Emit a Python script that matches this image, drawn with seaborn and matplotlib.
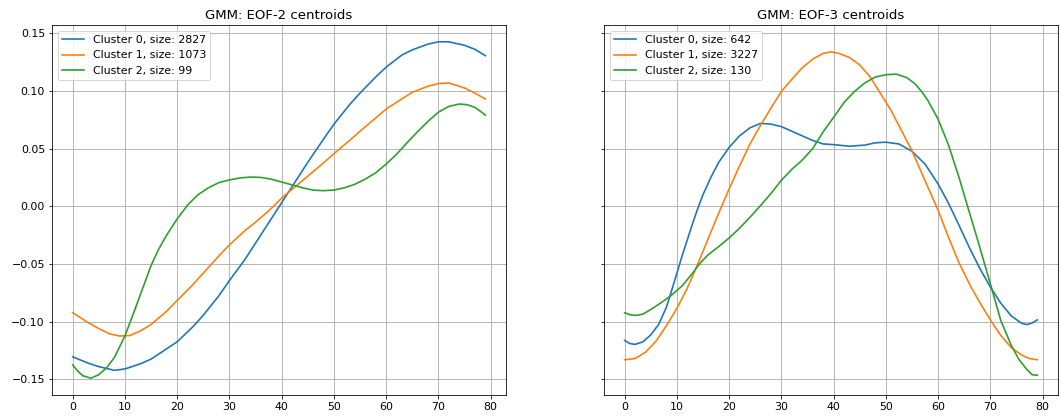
import matplotlib
matplotlib.use("Agg")
import matplotlib.pyplot as plt
import seaborn as sns

# ── values (x = time index, y = centroid value) ──
EOF2_X0 = [0, 3, 5, 8, 10, 13, 15, 18, 20, 23, 25, 28, 30, 33, 35, 38, 40, 42, 45, 48,
           50, 53, 55, 58, 60, 63, 65, 68, 70, 72, 75, 77, 79]
EOF2_Y0 = [-0.1305, -0.136, -0.139, -0.1422, -0.141, -0.1365, -0.1325, -0.1235, -0.1175,
           -0.1045, -0.0945, -0.0775, -0.0645, -0.046, -0.032, -0.011, 0.003, 0.017, 0.038,
           0.058, 0.071, 0.088, 0.098, 0.112, 0.1205, 0.131, 0.1355, 0.1405, 0.1425, 0.1425,
           0.1395, 0.136, 0.1305]
EOF2_X1 = [0, 3, 5, 7, 9, 11, 13, 15, 18, 20, 23, 25, 28, 30, 33, 35, 38, 40, 43, 45,
           48, 50, 53, 55, 58, 60, 63, 65, 68, 70, 72, 75, 77, 79]
EOF2_Y1 = [-0.0922, -0.101, -0.106, -0.1105, -0.1125, -0.112, -0.108, -0.1025, -0.091,
           -0.0817, -0.068, -0.058, -0.043, -0.0335, -0.021, -0.0139, -0.002, 0.007, 0.0185,
           0.026, 0.0375, 0.0455, 0.057, 0.065, 0.0765, 0.0842, 0.093, 0.0987, 0.104, 0.1063,
           0.1068, 0.1025, 0.098, 0.093]
EOF2_X2 = [0, 1, 2, 3.5, 5, 6.5, 8, 10, 12, 13.5, 15, 16.5, 18, 20, 22, 24, 26, 28, 30,
           32, 34, 36, 38, 40, 42, 44, 46, 48, 50, 52, 54, 56, 58, 60, 62, 64, 66, 68, 70,
           72, 74, 75.5, 77, 78, 79]
EOF2_Y2 = [-0.1375, -0.143, -0.147, -0.149, -0.146, -0.140, -0.131, -0.1125, -0.0885,
           -0.070, -0.0515, -0.037, -0.025, -0.011, 0.001, 0.010, 0.016, 0.0205, 0.0228,
           0.0245, 0.0253, 0.025, 0.0235, 0.021, 0.0185, 0.016, 0.014, 0.0135, 0.014, 0.016,
           0.019, 0.0235, 0.029, 0.0365, 0.045, 0.055, 0.0645, 0.0735, 0.0815, 0.0865,
           0.0886, 0.088, 0.0857, 0.0825, 0.079]

EOF3_X0 = [0, 1, 2, 3.5, 5, 6.5, 8, 9, 10, 11, 12, 13, 14, 15, 16.5, 18, 20, 22, 24, 26,
           28, 30, 33, 36, 38, 40, 43, 46, 48, 50, 52.5, 55, 57.5, 60, 62, 64, 66, 68, 70,
           72, 74, 76, 77, 78, 79]
EOF3_Y0 = [-0.1163, -0.119, -0.1197, -0.1175, -0.1115, -0.1025, -0.0875, -0.073, -0.058,
           -0.043, -0.029, -0.015, -0.002, 0.010, 0.025, 0.038, 0.051, 0.061, 0.068, 0.0718,
           0.0712, 0.069, 0.063, 0.057, 0.054, 0.0534, 0.052, 0.053, 0.055, 0.0555, 0.054,
           0.0476, 0.0366, 0.0193, 0.0025, -0.0165, -0.036, -0.054, -0.070, -0.084, -0.095,
           -0.1015, -0.1025, -0.1012, -0.0985]
EOF3_X1 = [0, 2, 4, 6, 8, 10, 12, 14, 16, 18, 20, 22, 24, 26, 28, 30, 32, 34, 36, 38,
           39.5, 41, 43, 45, 47, 49, 51, 53, 55, 57.5, 60, 62, 64, 66.3, 68, 70, 72, 74, 76,
           77.5, 79]
EOF3_Y1 = [-0.133, -0.132, -0.1265, -0.117, -0.1035, -0.0885, -0.071, -0.050, -0.028,
           -0.006, 0.015, 0.035, 0.054, 0.070, 0.085, 0.0995, 0.110, 0.120, 0.1275, 0.1325,
           0.1338, 0.1325, 0.129, 0.1225, 0.112, 0.0975, 0.083, 0.0655, 0.048, 0.0222,
           -0.0035, -0.027, -0.049, -0.070, -0.0835, -0.0985, -0.112, -0.1225, -0.129,
           -0.132, -0.133]
EOF3_X2 = [0, 1, 2.2, 3.5, 5, 7, 9, 11, 13, 14.5, 16, 18, 20, 22, 24, 26, 28, 30, 32, 34,
           36, 38, 40, 42, 44, 46, 48, 50, 52, 54, 55.6, 57, 58, 60, 62, 64, 65.7, 67.6, 70,
           72, 74, 75.5, 77, 78, 79]
EOF3_Y2 = [-0.0923, -0.094, -0.0946, -0.0935, -0.0895, -0.0835, -0.077, -0.069, -0.058,
           -0.049, -0.042, -0.035, -0.0275, -0.019, -0.0095, 0.0005, 0.011, 0.0225, 0.032,
           0.040, 0.050, 0.0645, 0.077, 0.090, 0.0995, 0.107, 0.112, 0.114, 0.1145, 0.1115,
           0.106, 0.0985, 0.092, 0.0755, 0.053, 0.025, -0.001, -0.0297, -0.0672, -0.099,
           -0.1205, -0.133, -0.1415, -0.146, -0.1465]

SIZES_EOF2 = [2827, 1073, 99]
SIZES_EOF3 = [642, 3227, 130]
COLORS = ["#1f77b4", "#ff7f0e", "#2ca02c"]

W, H, DPI = 1061, 416, 72
fig = plt.figure(figsize=(W / DPI, H / DPI), dpi=DPI)
ax1 = fig.add_axes([52 / W, 1 - 395 / H, 454 / W, 370 / H])
ax2 = fig.add_axes([604 / W, 1 - 395 / H, 454 / W, 370 / H], sharey=ax1)

panels = [
    (ax1, "GMM: EOF-2 centroids", [(EOF2_X0, EOF2_Y0), (EOF2_X1, EOF2_Y1), (EOF2_X2, EOF2_Y2)], SIZES_EOF2),
    (ax2, "GMM: EOF-3 centroids", [(EOF3_X0, EOF3_Y0), (EOF3_X1, EOF3_Y1), (EOF3_X2, EOF3_Y2)], SIZES_EOF3),
]

for ax, title, series, sizes in panels:
    for k, ((xs, ys), n) in enumerate(zip(series, sizes)):
        sns.lineplot(x=xs, y=ys, ax=ax, color=COLORS[k], linewidth=1.65,
                     label=f"Cluster {k}, size: {n}")
    ax.set_title(title, fontsize=13.2)
    ax.grid(True, color="#b0b0b0", linewidth=0.9)
    ax.set_xticks(range(0, 81, 10))
    ax.tick_params(labelsize=11)
    ax.legend(loc="upper left", fontsize=11)

ax2.tick_params(labelleft=False)

fig.savefig("out.png", dpi=DPI)
